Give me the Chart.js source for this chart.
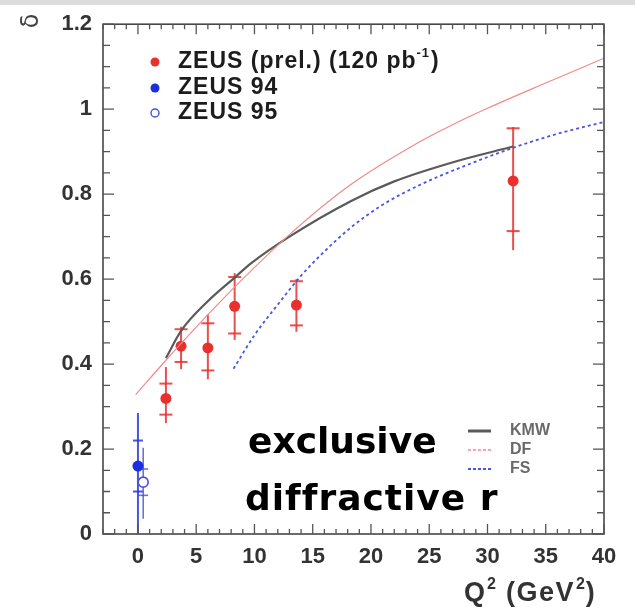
<!DOCTYPE html>
<html>
<head>
<meta charset="utf-8">
<script src="https://cdn.jsdelivr.net/npm/chart.js@4/dist/chart.umd.min.js"></script>
<style>
  html, body { margin: 0; padding: 0; background: #fff; }
  #c { display: block; }
</style>
</head>
<body>
<canvas id="c" width="635" height="609"></canvas>
<script>
// Axis tick values
const xTickValues = [0, 5, 10, 15, 20, 25, 30, 35, 40];
const yTickValues = [0, 0.2, 0.4, 0.6, 0.8, 1.0, 1.2];

// ZEUS preliminary (120 pb^-1): Q^2, ratio, stat and total error bounds
const prelQ2      = [2.4, 3.7, 6.0, 8.3, 13.6, 32.2];
const prelRatio   = [0.319, 0.442, 0.438, 0.536, 0.539, 0.831];
const prelStatLo  = [0.281, 0.405, 0.385, 0.472, 0.491, 0.713];
const prelStatHi  = [0.354, 0.482, 0.496, 0.605, 0.595, 0.955];
const prelTotLo   = [0.261, 0.388, 0.364, 0.457, 0.476, 0.668];
const prelTotHi   = [0.393, 0.488, 0.517, 0.614, 0.600, 0.958];

// ZEUS 94 (photoproduction)
const z94Q2 = [0.0];
const z94Ratio = [0.160];
const z94StatLo = [0.100];
const z94StatHi = [0.220];
const z94TotLo = [0.0];
const z94TotHi = [0.285];

// ZEUS 95
const z95Q2 = [0.45];
const z95Ratio = [0.122];
const z95StatLo = [0.091];
const z95StatHi = [0.153];
const z95TotLo = [0.036];
const z95TotHi = [0.203];

// Model curves
const kmwQ2 = [2.4, 3.7, 6.0, 8.4, 9.7, 13.0, 18.3, 22.0, 26.9, 32.2];
const kmwRatio = [0.414, 0.478, 0.548, 0.606, 0.637, 0.700, 0.784, 0.830, 0.874, 0.912];
const dfQ2 = [-0.2, 2.4, 5.0, 8.4, 13.1, 18.3, 24.3, 26.9, 30.0, 34.7, 40.0];
const dfRatio = [0.328, 0.409, 0.487, 0.584, 0.707, 0.823, 0.925, 0.962, 1.002, 1.058, 1.120];
const fsQ2 = [8.2, 10.0, 12.0, 14.0, 16.0, 18.3, 21.0, 24.3, 28.0, 32.3, 36.0, 40.0];
const fsRatio = [0.389, 0.468, 0.540, 0.608, 0.665, 0.722, 0.775, 0.823, 0.866, 0.910, 0.942, 0.970];

// Legend labels
const pointLabels = ['ZEUS (prel.) (120 pb', 'ZEUS 94', 'ZEUS 95'];
const curveLabels = ['KMW', 'DF', 'FS'];

const RED = '#e8302e';
const BLUE = '#1c2fe0';
const OPEN_BLUE = '#4b4fd6';
const KMW_COLOR = '#5a5a5a';
const DF_COLOR = '#f08a8a';
const FS_COLOR = '#4d55e0';

const pts = (xs, ys) => xs.map((x, i) => ({ x: x, y: ys[i] }));

const errorSets = [
  { q: prelQ2, lo: prelTotLo, hi: prelTotHi, slo: prelStatLo, shi: prelStatHi, color: 'rgba(232,48,46,0.85)', cap: 13, width: 2 },
  { q: z94Q2, lo: z94TotLo, hi: z94TotHi, slo: z94StatLo, shi: z94StatHi, color: 'rgba(40,55,220,0.85)', cap: 10, width: 2 },
  { q: z95Q2, lo: z95TotLo, hi: z95TotHi, slo: z95StatLo, shi: z95StatHi, color: 'rgba(70,80,215,0.8)', cap: 10, width: 1.6 }
];

const decor = {
  id: 'decor',
  beforeDraw(chart) {
    const ctx = chart.ctx;
    ctx.save();
    ctx.fillStyle = '#fff';
    ctx.fillRect(0, 0, chart.width, chart.height);
    ctx.fillStyle = '#dcdcdc';
    ctx.fillRect(0, 0, chart.width, 5);
    ctx.restore();
  },
  beforeDatasetsDraw(chart) {
    const ctx = chart.ctx;
    const xs = chart.scales.x, ys = chart.scales.y;
    ctx.save();
    errorSets.forEach(s => {
      ctx.strokeStyle = s.color;
      ctx.lineWidth = s.width;
      s.q.forEach((q, i) => {
        const px = xs.getPixelForValue(q);
        ctx.beginPath();
        ctx.moveTo(px, ys.getPixelForValue(s.lo[i]));
        ctx.lineTo(px, ys.getPixelForValue(s.hi[i]));
        ctx.stroke();
        [s.slo[i], s.shi[i]].forEach(v => {
          const py = ys.getPixelForValue(v);
          ctx.beginPath();
          ctx.moveTo(px - s.cap / 2, py);
          ctx.lineTo(px + s.cap / 2, py);
          ctx.stroke();
        });
      });
    });
    ctx.restore();
  },
  afterDraw(chart) {
    const ctx = chart.ctx;
    const a = chart.chartArea;
    const xs = chart.scales.x, ys = chart.scales.y;
    ctx.save();

    // frame
    ctx.strokeStyle = '#474747';
    ctx.lineWidth = 1.6;
    ctx.strokeRect(a.left, a.top, a.right - a.left, a.bottom - a.top);

    // inward ticks
    ctx.lineWidth = 1.3;
    ctx.strokeStyle = '#555';
    for (let v = -3; v <= 40; v++) {
      const px = xs.getPixelForValue(v);
      const len = (v % 5 === 0) ? 10 : 5;
      ctx.beginPath();
      ctx.moveTo(px, a.bottom); ctx.lineTo(px, a.bottom - len);
      ctx.moveTo(px, a.top); ctx.lineTo(px, a.top + len);
      ctx.stroke();
    }
    for (let k = 0; k <= 24; k++) {
      const v = k * 0.05;
      const py = ys.getPixelForValue(v);
      const len = (k % 4 === 0) ? 11 : 7;
      ctx.beginPath();
      ctx.moveTo(a.left, py); ctx.lineTo(a.left + len, py);
      ctx.moveTo(a.right, py); ctx.lineTo(a.right - len, py);
      ctx.stroke();
    }

    // y axis symbol
    ctx.save();
    ctx.translate(32, 21);
    ctx.rotate(-Math.PI / 2);
    ctx.fillStyle = '#444';
    ctx.font = '24px "DejaVu Sans"';
    ctx.textAlign = 'center';
    ctx.textBaseline = 'middle';
    ctx.fillText('δ', 0, 0);
    ctx.restore();

    // x axis title with superscripts
    const runs = [
      ['Q', 27, 0, '1px'], ['2', 16, -12, '0px'], [' (GeV', 27, 0, '1.5px'], ['2', 16, -12, '0px'], [')', 27, 0, '0px']
    ];
    let tx = 464;
    ctx.fillStyle = '#333';
    ctx.textBaseline = 'alphabetic';
    ctx.textAlign = 'left';
    runs.forEach(r => {
      ctx.letterSpacing = r[3];
      ctx.font = 'bold ' + r[1] + 'px "Liberation Sans"';
      ctx.fillText(r[0], tx, 601 + r[2]);
      tx += ctx.measureText(r[0]).width + 1;
    });

    // point legend
    const rows = [62, 88, 113];
    const lx = 155, tx0 = 178;
    ctx.beginPath(); ctx.arc(lx, rows[0], 4.5, 0, Math.PI * 2); ctx.fillStyle = RED; ctx.fill();
    ctx.beginPath(); ctx.arc(lx, rows[1], 4.5, 0, Math.PI * 2); ctx.fillStyle = BLUE; ctx.fill();
    ctx.beginPath(); ctx.arc(lx, rows[2], 4, 0, Math.PI * 2); ctx.strokeStyle = OPEN_BLUE; ctx.lineWidth = 1.4; ctx.stroke();
    ctx.fillStyle = '#1c1c1c';
    ctx.textBaseline = 'middle';
    ctx.letterSpacing = '1px';
    ctx.font = 'bold 23px "Liberation Sans"';
    ctx.fillText(pointLabels[0], tx0, rows[0]);
    let w = ctx.measureText(pointLabels[0]).width;
    ctx.font = 'bold 13px "Liberation Sans"';
    ctx.fillText('-1', tx0 + w, rows[0] - 9);
    const w2 = ctx.measureText('-1').width;
    ctx.font = 'bold 23px "Liberation Sans"';
    ctx.fillText(')', tx0 + w + w2 + 1, rows[0]);
    ctx.fillText(pointLabels[1], tx0, rows[1]);
    ctx.fillText(pointLabels[2], tx0, rows[2]);
    ctx.letterSpacing = '0px';

    // curve legend
    const crow = [431, 450, 469];
    const cstyle = [
      { c: KMW_COLOR, w: 3, d: [] },
      { c: DF_COLOR, w: 1.5, d: [3, 2] },
      { c: FS_COLOR, w: 1.8, d: [3, 2] }
    ];
    crow.forEach((y, i) => {
      ctx.beginPath();
      ctx.setLineDash(cstyle[i].d);
      ctx.strokeStyle = cstyle[i].c;
      ctx.lineWidth = cstyle[i].w;
      ctx.moveTo(468, y); ctx.lineTo(491, y);
      ctx.stroke();
    });
    ctx.setLineDash([]);
    ctx.fillStyle = '#6a6a6a';
    ctx.font = 'bold 16px "Liberation Sans"';
    crow.forEach((y, i) => ctx.fillText(curveLabels[i], 510, y));

    // caption
    ctx.fillStyle = '#000';
    ctx.textBaseline = 'alphabetic';
    ctx.font = 'bold 36px "DejaVu Sans"';
    ctx.fillText('exclusive', 248, 453);
    ctx.letterSpacing = '1px';
    ctx.fillText('diffractive r', 245, 510);
    ctx.letterSpacing = '0px';

    ctx.restore();
  }
};

const lineDs = (label, xs, ys, color, width, dash) => ({
  type: 'line', label: label, data: pts(xs, ys),
  borderColor: color, borderWidth: width, borderDash: dash,
  pointRadius: 0, fill: false, cubicInterpolationMode: 'monotone'
});

new Chart(document.getElementById('c'), {
  type: 'scatter',
  data: {
    datasets: [
      lineDs(curveLabels[1], dfQ2, dfRatio, DF_COLOR, 1.2, []),
      lineDs(curveLabels[0], kmwQ2, kmwRatio, KMW_COLOR, 2.2, []),
      lineDs(curveLabels[2], fsQ2, fsRatio, FS_COLOR, 1.8, [3, 3]),
      { label: pointLabels[0], data: pts(prelQ2, prelRatio), backgroundColor: RED, borderColor: RED, pointRadius: 5.5, borderWidth: 0 },
      { label: pointLabels[1], data: pts(z94Q2, z94Ratio), backgroundColor: BLUE, borderColor: BLUE, pointRadius: 5.5, borderWidth: 0 },
      { label: pointLabels[2], data: pts(z95Q2, z95Ratio), backgroundColor: '#fff', borderColor: OPEN_BLUE, pointRadius: 5, borderWidth: 1.6 }
    ]
  },
  options: {
    responsive: false,
    animation: false,
    devicePixelRatio: 1,
    layout: { padding: { top: 18, right: 31, left: 0, bottom: 0 } },
    plugins: { legend: { display: false }, tooltip: { enabled: false } },
    scales: {
      x: {
        type: 'linear', min: -3, max: 40,
        afterBuildTicks: s => { s.ticks = xTickValues.map(v => ({ value: v })); },
        afterFit: s => { s.height = 75; },
        grid: { display: false, drawTicks: false },
        border: { display: false },
        ticks: {
          padding: 10, maxRotation: 0, autoSkip: false, color: '#333',
          font: { family: 'Liberation Sans', size: 22, weight: 'bold' }
        }
      },
      y: {
        type: 'linear', min: 0, max: 1.2,
        afterBuildTicks: s => { s.ticks = yTickValues.map(v => ({ value: v })); },
        afterFit: s => { s.width = 103; },
        grid: { display: false, drawTicks: false },
        border: { display: false },
        ticks: {
          padding: 11, autoSkip: false, color: '#333',
          font: { family: 'Liberation Sans', size: 22, weight: 'bold' },
          callback: v => String(+Number(v).toFixed(1))
        }
      }
    }
  },
  plugins: [decor]
});
</script>
</body>
</html>
